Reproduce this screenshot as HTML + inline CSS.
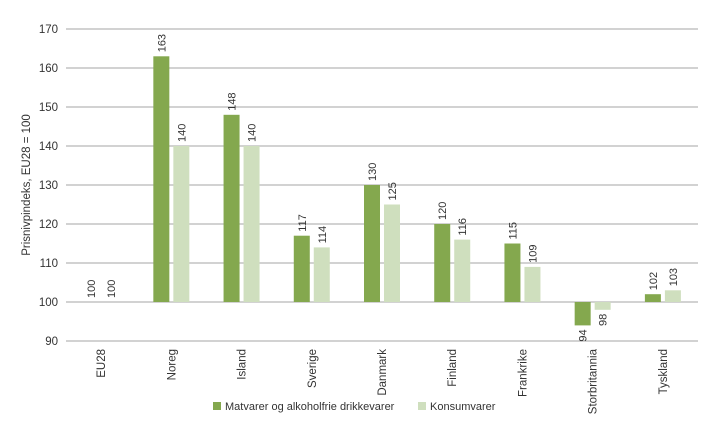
<!DOCTYPE html>
<html><head><meta charset="utf-8"><style>
body{margin:0;background:#fff;}
svg{font-family:"Liberation Sans",sans-serif;display:block;}
</style></head><body>
<svg id="chart" width="719" height="425" viewBox="0 0 719 425">
<g id="grid"></g><g id="bars"></g><g id="labels"></g>
<text transform="translate(30,185) rotate(-90)" text-anchor="middle" font-size="11.5" fill="#333">Prisnivpindeks, EU28 = 100</text>
<g>
<rect x="213" y="402" width="8" height="8" fill="#84a84e"/>
<text x="225" y="410" font-size="11" fill="#333">Matvarer og alkoholfrie drikkevarer</text>
<rect x="418" y="402" width="8" height="8" fill="#cfdfbe"/>
<text x="430" y="410" font-size="11" fill="#333">Konsumvarer</text>
</g>
</svg>
<script>
const categories=["EU28","Noreg","Island","Sverige","Danmark","Finland","Frankrike","Storbritannia","Tyskland"];
const matvarer=[100,163,148,117,130,120,115,94,102];
const konsum=[100,140,140,114,125,116,109,98,103];
const ticks=[90,100,110,120,130,140,150,160,170];
const NS="http://www.w3.org/2000/svg";
const L=66,R=698,T=29,B=341;
const y=v=>B-(v-90)/(80)*(B-T);
const bw=(R-L)/categories.length;
const xc=i=>L+bw*(i+0.5);
function mk(t,a,p){const e=document.createElementNS(NS,t);for(const k in a)e.setAttribute(k,a[k]);p.appendChild(e);return e;}
const g=document.getElementById('grid'),bg=document.getElementById('bars'),lg=document.getElementById('labels');
ticks.forEach(t=>{
 const l=mk('line',{x1:L,x2:R,y1:y(t),y2:y(t),stroke:'#888','stroke-width':0.8},g);
 
 
 const tx=mk('text',{x:L-8,y:y(t)+4,'text-anchor':'end','font-size':11.5,fill:'#333'},g);tx.textContent=t;
 
 
});
const series=[[matvarer,'#84a84e',-18,'matvarer'],[konsum,'#cfdfbe',2,'konsum']];
categories.forEach((c,i)=>{
 series.forEach(([arr,col,off,nm])=>{
  const v=arr[i],x0=xc(i)+off;
  const top=Math.min(y(v),y(100)),h=Math.abs(y(v)-y(100));
  const r=mk('rect',{x:x0,y:top,width:16,height:h,fill:col},bg);
  
  
  const cx=x0+8;
  let t;
  if(v>=100){t=mk('text',{transform:`translate(${cx+4},${y(v)-4}) rotate(-90)`,'font-size':11,fill:'#333'},lg);}
  else{t=mk('text',{transform:`translate(${cx+4},${y(v)+4}) rotate(-90)`,'font-size':11,fill:'#333','text-anchor':'end'},lg);}
  t.textContent=v;
  
  
 });
 const ct=mk('text',{transform:`translate(${xc(i)+4},349) rotate(-90)`,'text-anchor':'end','font-size':11.5,fill:'#333'},lg);
 ct.textContent=c;
 
 
});
</script>
</body></html>
